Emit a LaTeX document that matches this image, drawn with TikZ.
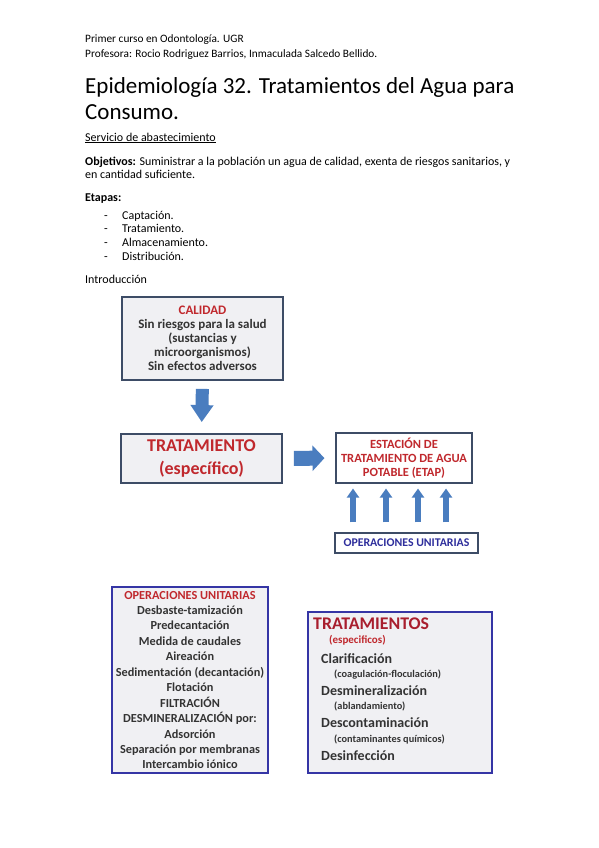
\documentclass[tikz,border=0pt]{standalone}
\usepackage{fontspec}
\setmainfont{Carlito}
\usetikzlibrary{arrows.meta,positioning}

\definecolor{boxfill}{HTML}{F0F0F3}
\definecolor{slate}{HTML}{3D4C66}
\definecolor{rojo}{HTML}{C0282D}
\definecolor{granate}{HTML}{A81E2E}
\definecolor{azul}{HTML}{2E2E9C}
\definecolor{marco}{HTML}{3535A5}
\definecolor{flecha}{HTML}{4A7DBF}
\definecolor{texto}{HTML}{333333}

\begin{document}
\begin{tikzpicture}[x=1pt,y=-1pt,
  txt/.style={anchor=base west,inner sep=0pt,font=\fontsize{12}{14}\selectfont},
  cabecera/.style={txt,font=\fontsize{11.3}{13}\selectfont},
  titulo/.style={txt,font=\fontsize{23}{26}\selectfont},
  caja/.style={draw=slate,line width=1.8pt,fill=boxfill,inner sep=2pt,align=center,text=texto},
  cajablanca/.style={draw=slate,line width=1.1pt,fill=white,inner sep=2pt,align=center},
  lista/.style={draw=marco,line width=1.4pt,fill=boxfill,inner sep=2pt,align=center,text=texto},
  flechagorda/.style={draw=flecha,line width=#1},
  trt/.style={anchor=base west,inner sep=0pt,text=texto,font=\bfseries\fontsize{14}{16}\selectfont},
  sub/.style={anchor=base west,inner sep=0pt,text=texto,font=\bfseries\fontsize{10.3}{12}\selectfont}]
\useasboundingbox[fill=white] (0,0) rectangle (599,848);

% cabecera y texto
\node[cabecera] (curso) at (85,43) {Primer curso en Odontología. UGR};
\node[cabecera] (prof) at (85,58) {Profesora: Rocio Rodriguez Barrios, Inmaculada Salcedo Bellido.};
\node[titulo] (tit1) at (85,94) {Epidemiología 32. Tratamientos del Agua para};
\node[titulo] (tit2) at (85,120) {Consumo.};
\node[txt] (servicio) at (85,141) {\underline{Servicio de abastecimiento}};
\node[txt] (obj1) at (85,165) {\textbf{Objetivos:} Suministrar a la población un agua de calidad, exenta de riesgos sanitarios, y};
\node[txt] (obj2) at (85,178) {en cantidad suficiente.};
\node[txt] (etapas) at (85,201) {\textbf{Etapas:}};
\foreach \y/\t in {219/Captación., 232/Tratamiento., 246/Almacenamiento., 260/Distribución.}{
  \node[txt] at (104,\y) {-};
  \node[txt] at (122,\y) {\t};
}
\node[txt] (intro) at (85,283) {Introducción};

% esquema superior
\node[caja,minimum width=161pt,minimum height=83pt,
      font=\bfseries\fontsize{13}{14}\selectfont] (calidad) at (202.5,338.5)
  {\textcolor{rojo}{CALIDAD}\\Sin riesgos para la salud\\(sustancias y\\microorganismos)\\Sin efectos adversos};
\node[caja,minimum width=161pt,minimum height=49pt,text=rojo,
      font=\bfseries\fontsize{18}{23}\selectfont] (trat) at (201.5,458.5)
  {TRATAMIENTO\\(específico)};
\node[cajablanca,minimum width=136pt,minimum height=50pt,text=rojo,
      font=\bfseries\fontsize{12.5}{14}\selectfont] (etap) at (404,458)
  {ESTACIÓN DE\\TRATAMIENTO DE AGUA\\POTABLE (ETAP)};
\node[cajablanca,line width=1.4pt,minimum width=143pt,minimum height=20pt,text=azul,
      font=\bfseries\fontsize{11.8}{13}\selectfont] (opsu) at (406.5,543)
  {OPERACIONES UNITARIAS};

\draw[flechagorda=13pt,-{Triangle[width=22pt,length=17pt]},shorten <=8pt,shorten >=11pt]
  (calidad.south) -- (trat.north);
\draw[flechagorda=15pt,-{Triangle[width=25pt,length=12pt]},shorten <=11pt,shorten >=11pt]
  (trat.east) -- (etap.west);
\foreach \x in {353,386,418,446}
  \draw[flechagorda=6pt,-{Triangle[width=12pt,length=9pt]},shorten <=10pt,shorten >=5pt]
    (opsu.north -| \x,0) -- (etap.south -| \x,0);

% cajas inferiores
\node[lista,minimum width=156pt,minimum height=186pt,
      font=\bfseries\fontsize{12.3}{15.45}\selectfont] (operaciones) at (190,680)
  {\textcolor{rojo}{OPERACIONES UNITARIAS}\\Desbaste-tamización\\Predecantación\\Medida de caudales\\
   Aireación\\Sedimentación (decantación)\\Flotación\\FILTRACIÓN\\DESMINERALIZACIÓN por:\\
   Adsorción\\Separación por membranas\\Intercambio iónico};

\node[lista,minimum width=184pt,minimum height=161pt] (tratamientos) at (400,692.5) {};
\node[trt,text=granate,font=\bfseries\fontsize{17.8}{20}\selectfont] (tt) at (313,629.5) {TRATAMIENTOS};
\node[sub,text=rojo,font=\bfseries\fontsize{11}{12}\selectfont] (esp) at (329,643) {(especificos)};
\node[trt] (clar) at (321,663) {Clarificación};
\node[sub] (coag) at (334,677) {(coagulación-floculación)};
\node[trt] (desm) at (321,695) {Desmineralización};
\node[sub] (abl) at (334,709.5) {(ablandamiento)};
\node[trt] (desc) at (321,727) {Descontaminación};
\node[sub] (cont) at (334,742.5) {(contaminantes químicos)};
\node[trt] (desi) at (321,760) {Desinfección};
\end{tikzpicture}
\end{document}
